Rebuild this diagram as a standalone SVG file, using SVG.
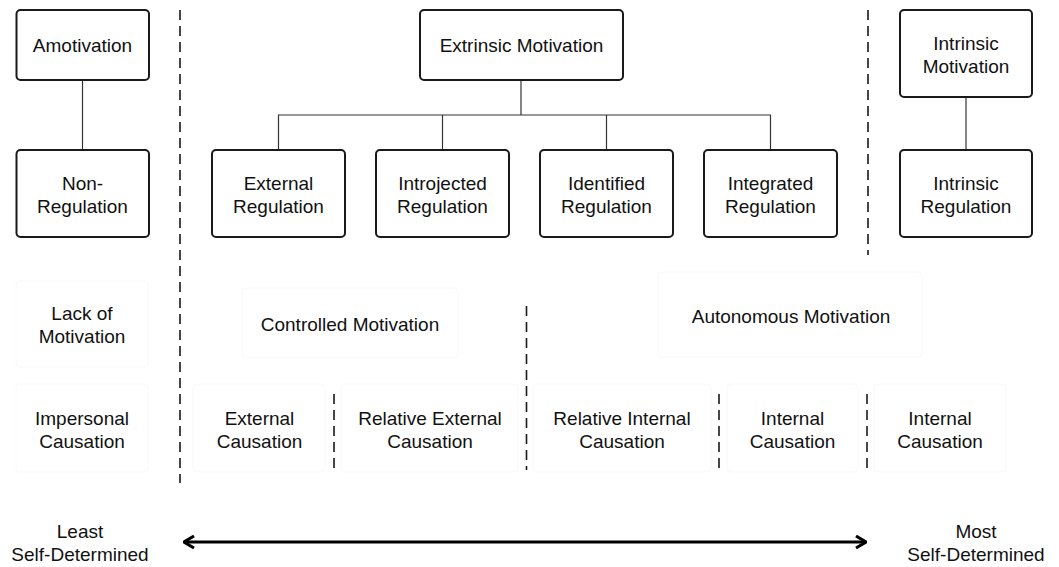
<svg xmlns="http://www.w3.org/2000/svg" width="1059" height="567" viewBox="0 0 1059 567">
<defs>
<style>
.box{fill:#fff;stroke:#1a1a1a;stroke-width:2}
.faint{fill:#fff;stroke:#f9f9f9;stroke-width:1}
.t{font-family:"Liberation Sans",Arial,sans-serif;font-size:19px;fill:#111;text-anchor:middle}
.conn{stroke:#333;stroke-width:1.2;fill:none}
.dash{stroke:#1a1a1a;stroke-width:1.6;stroke-dasharray:10 6;fill:none}
.arrow{stroke:#000;stroke-width:3;fill:none}
</style>
<marker id="chev" viewBox="0 0 12 14" refX="11" refY="7" markerWidth="12" markerHeight="14" markerUnits="userSpaceOnUse" orient="auto-start-reverse">
<path d="M1,1 L11,7 L1,13" fill="none" stroke="#000" stroke-width="3"/>
</marker>
</defs>
<rect width="1059" height="567" fill="#fff"/>

<g id="connectors">
<line class="conn" x1="82.5" y1="80" x2="82.5" y2="150"/>
<line class="conn" x1="521" y1="80" x2="521" y2="115"/>
<polyline class="conn" points="278.5,150 278.5,115 770.5,115 770.5,150"/>
<line class="conn" x1="442.5" y1="115" x2="442.5" y2="150"/>
<line class="conn" x1="606.5" y1="115" x2="606.5" y2="150"/>
<line class="conn" x1="966" y1="97" x2="966" y2="150"/>
</g>

<g id="dividers">
<line class="dash" x1="180" y1="10" x2="180" y2="483"/>
<line class="dash" x1="868" y1="10" x2="868" y2="255"/>
<line class="dash" x1="526.5" y1="306" x2="526.5" y2="470"/>
<line class="dash" x1="334" y1="394" x2="334" y2="470"/>
<line class="dash" x1="719" y1="394" x2="719" y2="470"/>
<line class="dash" x1="867" y1="394" x2="867" y2="470"/>
</g>

<g id="amotivation"><rect class="box" x="16.5" y="10" width="132.5" height="70" rx="4"/><text class="t" x="82.5" y="52">Amotivation</text></g>
<g id="non-regulation"><rect class="box" x="16.5" y="150" width="132.5" height="87" rx="4"/><text class="t" x="82.5" y="190">Non-</text><text class="t" x="82.5" y="213">Regulation</text></g>

<g id="extrinsic-motivation"><rect class="box" x="420" y="10" width="203" height="70" rx="4"/><text class="t" x="521.5" y="52">Extrinsic Motivation</text></g>
<g id="external-regulation"><rect class="box" x="212" y="150" width="133" height="87" rx="4"/><text class="t" x="278.5" y="190">External</text><text class="t" x="278.5" y="213">Regulation</text></g>
<g id="introjected-regulation"><rect class="box" x="376" y="150" width="133" height="87" rx="4"/><text class="t" x="442.5" y="190">Introjected</text><text class="t" x="442.5" y="213">Regulation</text></g>
<g id="identified-regulation"><rect class="box" x="540" y="150" width="133" height="87" rx="4"/><text class="t" x="606.5" y="190">Identified</text><text class="t" x="606.5" y="213">Regulation</text></g>
<g id="integrated-regulation"><rect class="box" x="704" y="150" width="133" height="87" rx="4"/><text class="t" x="770.5" y="190">Integrated</text><text class="t" x="770.5" y="213">Regulation</text></g>

<g id="intrinsic-motivation"><rect class="box" x="900" y="10" width="132" height="87" rx="4"/><text class="t" x="966" y="50">Intrinsic</text><text class="t" x="966" y="73">Motivation</text></g>
<g id="intrinsic-regulation"><rect class="box" x="900" y="150" width="132" height="87" rx="4"/><text class="t" x="966" y="190">Intrinsic</text><text class="t" x="966" y="213">Regulation</text></g>

<g id="lack-of-motivation"><rect class="faint" x="16" y="281" width="132" height="86" rx="4"/><text class="t" x="82" y="320">Lack of</text><text class="t" x="82" y="343">Motivation</text></g>
<g id="controlled-motivation"><rect class="faint" x="242" y="288" width="216" height="70" rx="4"/><text class="t" x="350" y="331">Controlled Motivation</text></g>
<g id="autonomous-motivation"><rect class="faint" x="658" y="272" width="264" height="85" rx="4"/><text class="t" x="791" y="323">Autonomous Motivation</text></g>

<g id="impersonal-causation"><rect class="faint" x="16" y="384" width="132" height="88" rx="4"/><text class="t" x="82" y="425">Impersonal</text><text class="t" x="82" y="448">Causation</text></g>
<g id="external-causation"><rect class="faint" x="193" y="384" width="132" height="88" rx="4"/><text class="t" x="259.5" y="425">External</text><text class="t" x="259.5" y="448">Causation</text></g>
<g id="relative-external-causation"><rect class="faint" x="341" y="384" width="177" height="88" rx="4"/><text class="t" x="430" y="425">Relative External</text><text class="t" x="430" y="448">Causation</text></g>
<g id="relative-internal-causation"><rect class="faint" x="533" y="384" width="178" height="88" rx="4"/><text class="t" x="622" y="425">Relative Internal</text><text class="t" x="622" y="448">Causation</text></g>
<g id="internal-causation-1"><rect class="faint" x="727" y="384" width="131" height="88" rx="4"/><text class="t" x="792.5" y="425">Internal</text><text class="t" x="792.5" y="448">Causation</text></g>
<g id="internal-causation-2"><rect class="faint" x="874" y="384" width="132" height="88" rx="4"/><text class="t" x="940" y="425">Internal</text><text class="t" x="940" y="448">Causation</text></g>

<g id="scale">
<line class="arrow" x1="184" y1="542" x2="866" y2="542" marker-start="url(#chev)" marker-end="url(#chev)"/>
<text class="t" x="80" y="538">Least</text><text class="t" x="80" y="561">Self-Determined</text>
<text class="t" x="976" y="538">Most</text><text class="t" x="976" y="561">Self-Determined</text>
</g>
</svg>
